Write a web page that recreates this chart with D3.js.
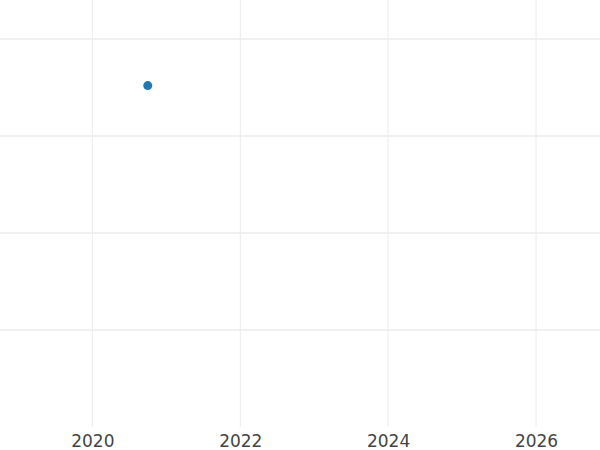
<!DOCTYPE html>
<html>
<head>
<meta charset="utf-8">
<script src="https://cdn.jsdelivr.net/npm/d3@7"></script>
<style>
  body { margin: 0; background: white; }
  svg { display: block; }
</style>
</head>
<body>
<div id="chart"></div>
<script>
// data
const dates = [new Date(2020, 9, 1)];
const values = [3.52];
const yTicks = [1, 2, 3, 4];
const xTickYears = [2020, 2022, 2024, 2026];

const width = 600, height = 450;
const plotBottom = 427;

const svg = d3.select("#chart")
  .append("svg")
  .attr("width", width)
  .attr("height", height)
;

const x = d3.scaleTime()
  .domain([new Date(2018, 9, 2), new Date(2026, 10, 13)])
  .range([0, width])
;

const y = d3.scaleLinear()
  .domain([0, 4.4])
  .range([plotBottom, plotBottom - 4.4 * 97])
;

// vertical grid
svg.append("g")
  .selectAll("line")
  .data(xTickYears)
  .enter()
  .append("line")
  .attr("x1", d => x(new Date(d, 0, 1)))
  .attr("x2", d => x(new Date(d, 0, 1)))
  .attr("y1", 0)
  .attr("y2", plotBottom)
  .attr("stroke", "#ebebeb")
  .attr("stroke-width", 1)
;

// horizontal grid
svg.append("g")
  .selectAll("line")
  .data(yTicks)
  .enter()
  .append("line")
  .attr("x1", 0)
  .attr("x2", width)
  .attr("y1", d => y(d))
  .attr("y2", d => y(d))
  .attr("stroke", "#ebebeb")
  .attr("stroke-width", 1.5)
;

// x axis labels
const xAxis = d3.axisBottom(x)
  .tickValues(xTickYears.map(d => new Date(d, 0, 1)))
  .tickFormat(d3.timeFormat("%Y"))
  .tickSize(0)
  .tickPadding(8)
;

svg.append("g")
  .attr("transform", "translate(0," + plotBottom + ")")
  .call(xAxis)
  .call(g => g.select(".domain").remove())
  .selectAll("text")
  .attr("fill", "#444")
  .attr("font-family", "DejaVu Sans, sans-serif")
  .attr("font-size", 17)
;

// points
svg.append("g")
  .selectAll("circle")
  .data(dates)
  .enter()
  .append("circle")
  .attr("cx", d => x(d))
  .attr("cy", (d, i) => y(values[i]))
  .attr("r", 4.5)
  .attr("fill", "#1f77b4")
;
</script>
</body>
</html>
